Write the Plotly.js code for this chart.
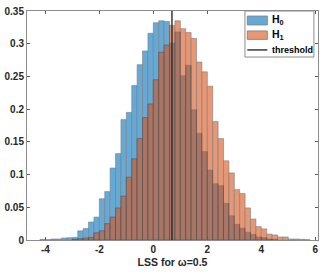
<!DOCTYPE html>
<html>
<head>
<meta charset="utf-8">
<script src="https://cdn.plot.ly/plotly-3.0.1.min.js"></script>
<style>html,body{margin:0;padding:0;background:#fff;}#chart{width:332px;height:275px;}</style>
</head>
<body>
<div id="chart"></div>
<script>
// H0 histogram (bin centers, bin width 0.2) - pdf normalized
const h0Centers = [-4.1,-3.9,-3.7,-3.5,-3.3,-3.1,-2.9,-2.7,-2.5,-2.3,-2.1,-1.9,-1.7,-1.5,-1.3,-1.1,-0.9,-0.7,-0.5,-0.3,-0.1,0.1,0.3,0.5,0.7,0.9,1.1,1.3,1.5,1.7,1.9,2.1,2.3,2.5,2.7,2.9,3.1,3.3,3.5,3.7,3.9,4.1,4.3,4.5];
const h0Values  = [0.001,0.0005,0.0015,0.0015,0.003,0.0035,0.004,0.014,0.0175,0.0275,0.035,0.063,0.074,0.110,0.132,0.184,0.195,0.236,0.268,0.289,0.316,0.332,0.335,0.334,0.301,0.318,0.251,0.267,0.199,0.163,0.135,0.107,0.086,0.083,0.056,0.037,0.024,0.018,0.012,0.0086,0.0046,0.0037,0.0015,0.001];
// H1 histogram
const h1Centers = [-2.9,-2.7,-2.5,-2.3,-2.1,-1.9,-1.7,-1.5,-1.3,-1.1,-0.9,-0.7,-0.5,-0.3,-0.1,0.1,0.3,0.5,0.7,0.9,1.1,1.3,1.5,1.7,1.9,2.1,2.3,2.5,2.7,2.9,3.1,3.3,3.5,3.7,3.9,4.1,4.3,4.5,4.7,4.9,5.1,5.3,5.5,5.7];
const h1Values  = [0.001,0.002,0.003,0.004,0.011,0.014,0.025,0.035,0.049,0.067,0.096,0.124,0.155,0.187,0.208,0.245,0.287,0.298,0.328,0.335,0.323,0.317,0.308,0.272,0.257,0.235,0.181,0.155,0.121,0.1025,0.077,0.071,0.049,0.032,0.0204,0.017,0.009,0.0077,0.0046,0.0046,0.0015,0.0015,0.001,0.0005];
const binWidth = 0.2;
const thresholdX = [0.69, 0.69];
const thresholdY = [0, 0.35];
const xTicks = [-4, -2, 0, 2, 4, 6];
const yTicks = [0, 0.05, 0.1, 0.15, 0.2, 0.25, 0.3, 0.35];
const yTickText = ['0', '0.05', '0.1', '0.15', '0.2', '0.25', '0.3', '0.35'];
const legendNames = ['H<sub>0</sub>', 'H<sub>1</sub>', 'threshold'];

const fontFam = 'Liberation Sans, Arial, Helvetica, sans-serif';
const edgeColor = 'rgb(38,38,38)';
const c0 = 'rgb(0,114,189)', c1 = 'rgb(217,83,25)', cLine = 'rgba(35,35,35,0.9)';

const traces = [
  {type: 'bar', x: h0Centers, y: h0Values, width: binWidth, name: legendNames[0], showlegend: false,
   marker: {color: c0, line: {color: edgeColor, width: 0.6}}, opacity: 0.6},
  {type: 'bar', x: h1Centers, y: h1Values, width: binWidth, name: legendNames[1], showlegend: false,
   marker: {color: c1, line: {color: edgeColor, width: 0.6}}, opacity: 0.6},
  {type: 'scatter', mode: 'lines', x: thresholdX, y: thresholdY, name: legendNames[2], showlegend: false,
   line: {color: cLine, width: 1.5}}
];

const axisCommon = {
  showgrid: false, zeroline: false, showline: true, mirror: 'ticks',
  linecolor: '#8c8c8c', linewidth: 1, ticks: 'inside', ticklen: 3, tickcolor: '#5a5a5a',
  tickfont: {family: fontFam, size: 10, color: '#262626', weight: 'bold'}
};

// legend drawn in paper coordinates (box, patches, line, labels)
const L = {x0: 0.749, x1: 0.986, y0: 0.799, y1: 1.0, sx0: 0.757, sx1: 0.826, tx: 0.834};
const shapes = [
  {type: 'rect', xref: 'paper', yref: 'paper', x0: L.x0, x1: L.x1, y0: L.y0, y1: L.y1,
   fillcolor: '#fff', line: {color: '#8c8c8c', width: 1}, layer: 'above'},
  {type: 'rect', xref: 'paper', yref: 'paper', x0: L.sx0, x1: L.sx1, y0: 0.939, y1: 0.978,
   fillcolor: c0, opacity: 0.6, line: {color: edgeColor, width: 0.8}, layer: 'above'},
  {type: 'rect', xref: 'paper', yref: 'paper', x0: L.sx0, x1: L.sx1, y0: 0.876, y1: 0.913,
   fillcolor: c1, opacity: 0.6, line: {color: edgeColor, width: 0.8}, layer: 'above'},
  {type: 'line', xref: 'paper', yref: 'paper', x0: L.sx0, x1: L.sx1, y0: 0.830, y1: 0.830,
   line: {color: cLine, width: 1.5}, layer: 'above'}
];
const legFontH = {family: fontFam, size: 10.5, color: '#000', weight: 'bold'};
const legFont = {family: fontFam, size: 9, color: '#000', weight: 'bold'};
const annotations = [
  {xref: 'paper', yref: 'paper', x: L.tx, y: 0.960, text: legendNames[0], showarrow: false, xanchor: 'left', yanchor: 'middle', font: legFontH},
  {xref: 'paper', yref: 'paper', x: L.tx, y: 0.896, text: legendNames[1], showarrow: false, xanchor: 'left', yanchor: 'middle', font: legFontH},
  {xref: 'paper', yref: 'paper', x: L.tx, y: 0.830, text: legendNames[2], showarrow: false, xanchor: 'left', yanchor: 'middle', font: legFont}
];

const layout = {
  width: 332, height: 275,
  margin: {l: 27, r: 14, t: 11, b: 35},
  paper_bgcolor: '#fff', plot_bgcolor: '#fff',
  barmode: 'overlay', bargap: 0,
  showlegend: false,
  shapes: shapes, annotations: annotations,
  xaxis: Object.assign({}, axisCommon, {range: [-4.68, 6.1], tickvals: xTicks,
    ticktext: xTicks.map(String),
    title: {text: 'LSS for ω=0.5', standoff: 4, font: {family: fontFam, size: 10.5, color: '#262626', weight: 'bold'}}}),
  yaxis: Object.assign({}, axisCommon, {range: [0, 0.35], tickvals: yTicks, ticktext: yTickText})
};

Plotly.newPlot('chart', traces, layout, {displayModeBar: false, staticPlot: true});
</script>
</body>
</html>
